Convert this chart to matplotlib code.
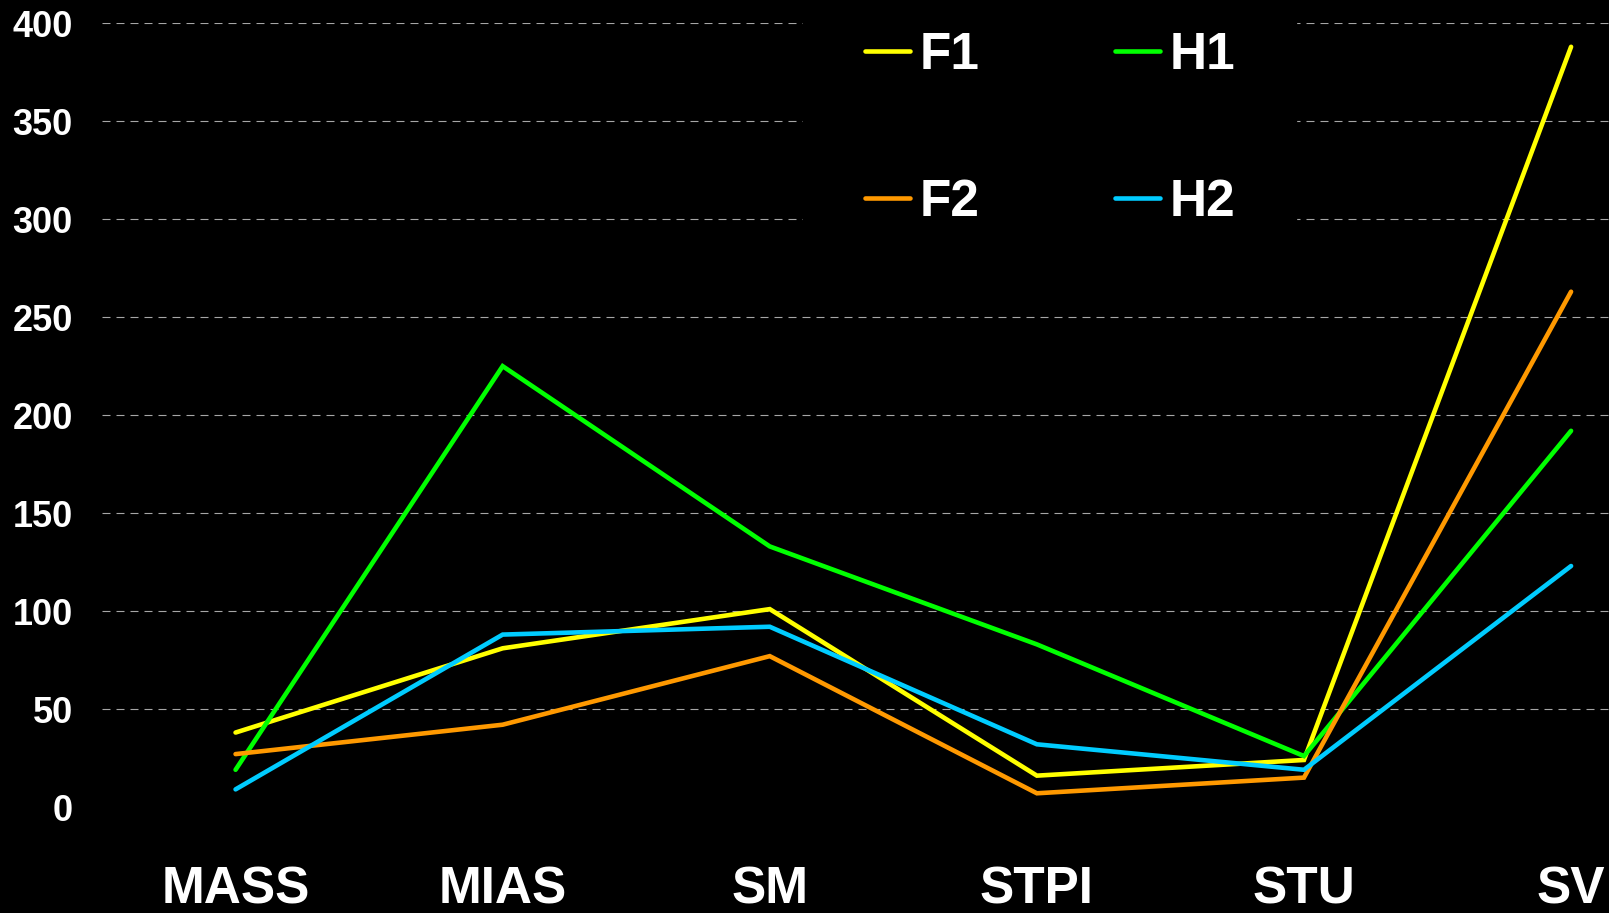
import matplotlib
matplotlib.use("Agg")
import matplotlib.pyplot as plt

# data
categories = ["MASS", "MIAS", "SM", "STPI", "STU", "SV"]
f1 = [38, 81, 101, 16, 24, 388]
h1 = [19, 225, 133, 83, 26, 192]
f2 = [27, 42, 77, 7, 15, 263]
h2 = [9, 88, 92, 32, 19, 123]
yticks = [0, 50, 100, 150, 200, 250, 300, 350, 400]

plt.rcParams["font.family"] = ["Liberation Sans", "DejaVu Sans"]
plt.rcParams["font.weight"] = "bold"

fig = plt.figure(figsize=(16.09, 9.13), dpi=100, facecolor="black")
ax = fig.add_axes([0.0634, 0.1161, 0.9366, 0.8584], facecolor="black")

x = list(range(len(categories)))
series = [("F1", f1, "#ffff00"), ("H1", h1, "#00ff00"),
          ("F2", f2, "#ff9900"), ("H2", h2, "#00ccff")]
handles = {}
for name, vals, col in series:
    ln, = ax.plot(x, vals, color=col, lw=3.3, solid_capstyle="round",
                  solid_joinstyle="miter", label=name, zorder=3)
    handles[name] = ln

ax.set_xlim(-0.5, 5.142)
ax.set_ylim(0, 400)
ax.set_yticks(yticks)
ax.set_yticklabels([str(v) for v in yticks])
ax.set_xticks(x)
ax.set_xticklabels(categories)

for s in ax.spines.values():
    s.set_visible(False)
ax.tick_params(axis="y", length=0, pad=21, colors="white", labelsize=26)
ax.tick_params(axis="x", length=0, pad=42, colors="white", labelsize=37)

for yv in yticks[1:]:
    ax.axhline(yv, color="#a6a6a6", lw=0.8, linestyle=(0, (7.2, 5.4)), zorder=1)

order = ["F1", "F2", "H1", "H2"]
leg = ax.legend([handles[k] for k in order], order, ncol=2,
                loc="center", bbox_to_anchor=(0.6524, 0.8585),
                bbox_transform=fig.transFigure,
                prop={"family": "Liberation Sans", "weight": "bold", "size": 37},
                handlelength=0.88, handletextpad=0.18, columnspacing=2.64,
                labelspacing=1.91, borderpad=1.2, frameon=True,
                facecolor="black", edgecolor="black", fancybox=False,
                framealpha=1)
for t in leg.get_texts():
    t.set_color("white")
leg.set_zorder(5)

fig.savefig("out.png", dpi=100, facecolor="black")
